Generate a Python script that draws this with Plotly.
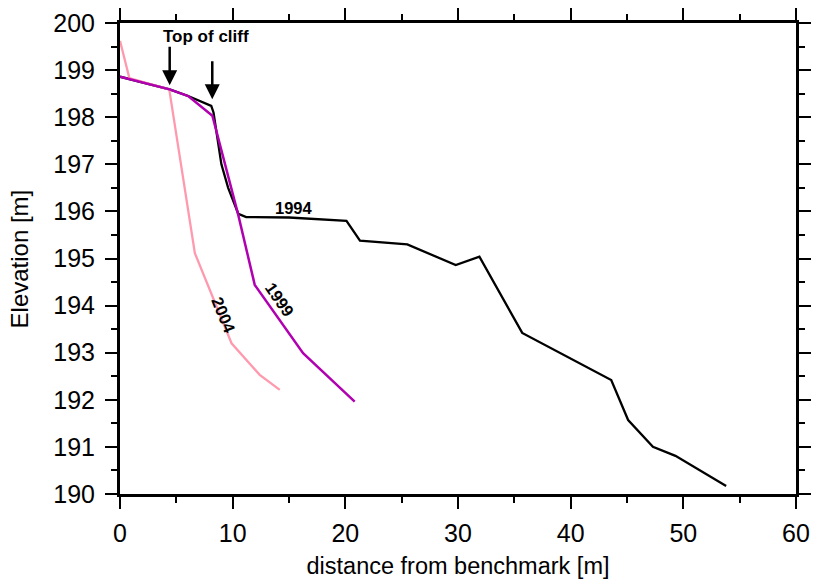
import plotly.graph_objects as go

# 1994 profile
x_1994 = [0.0, 4.4, 6.05, 8.1, 8.3, 9.0, 9.6, 10.5, 11.2, 15.0, 20.1, 21.3, 25.5, 29.8, 31.9, 35.7, 43.6, 45.1, 47.3, 49.3, 53.8]
y_1994 = [198.86, 198.59, 198.45, 198.24, 198.1, 197.0, 196.5, 195.95, 195.88, 195.87, 195.8, 195.38, 195.3, 194.86, 195.04, 193.42, 192.42, 191.57, 191.0, 190.81, 190.17]

# 1999 profile
x_1999 = [0.0, 4.4, 6.05, 8.2, 10.5, 11.96, 16.25, 20.83]
y_1999 = [198.86, 198.59, 198.45, 198.03, 195.92, 194.44, 192.99, 191.96]

# 2004 profile
x_2004 = [0.0, 0.83, 4.37, 6.65, 9.9, 12.4, 14.18]
y_2004 = [199.62, 198.83, 198.59, 195.11, 193.2, 192.53, 192.21]

# curve labels: text, x, y, angle
labels = [("1994", 15.4, 196.07, 0), ("1999", 14.2, 194.12, 55), ("2004", 9.2, 193.8, 68)]

# cliff-top arrows: x, y_start, y_tip
arrows = [(4.41, 199.53, 198.68), (8.19, 199.22, 198.38)]
cliff_text = ("Top of cliff", 7.65, 199.72)

x_title = "distance from benchmark [m]"
y_title = "Elevation [m]"

FONT = "Liberation Sans, Arial, sans-serif"

fig = go.Figure()
fig.add_trace(go.Scatter(x=x_1994, y=y_1994, mode="lines",
                         line=dict(color="black", width=2.3), showlegend=False))
fig.add_trace(go.Scatter(x=x_2004, y=y_2004, mode="lines",
                         line=dict(color="#ff9aae", width=2.3), showlegend=False))
fig.add_trace(go.Scatter(x=x_1999, y=y_1999, mode="lines",
                         line=dict(color="#b000b0", width=2.5), showlegend=False))

bold = dict(family=FONT, size=16.5, color="black")
annotations = []
for t, xx, yy, ang in labels:
    annotations.append(dict(x=xx, y=yy, xref="x", yref="y", text="<b>%s</b>" % t,
                            showarrow=False, textangle=ang, font=bold))
for xx, y0, y1 in arrows:
    annotations.append(dict(x=xx, y=y1, ax=xx, ay=y0, xref="x", yref="y",
                            axref="x", ayref="y", text="", showarrow=True,
                            arrowhead=2, arrowsize=1.2, arrowwidth=2.5,
                            arrowcolor="black"))
annotations.append(dict(x=cliff_text[1], y=cliff_text[2], xref="x", yref="y",
                        text="<b>%s</b>" % cliff_text[0], showarrow=False,
                        font=dict(family=FONT, size=17, color="black")))
# y-axis title placed as a rotated annotation (to sit further left)
annotations.append(dict(x=-0.148, y=0.5, xref="paper", yref="paper", text=y_title,
                        showarrow=False, textangle=-90, xanchor="center", yanchor="middle",
                        font=dict(family=FONT, size=24, color="black")))

axis_font = dict(family=FONT, size=25, color="black")
fig.update_layout(
    width=813, height=581,
    margin=dict(l=120, r=17, t=23, b=87),
    paper_bgcolor="white", plot_bgcolor="white",
    annotations=annotations,
    xaxis=dict(range=[0, 60], dtick=10, tick0=0, ticks="outside", ticklen=12, tickwidth=1.5,
               tickcolor="black", showline=True, linecolor="black", linewidth=3,
               mirror="allticks", showgrid=False, zeroline=False, automargin=False,
               tickfont=axis_font, ticklabelstandoff=3,
               minor=dict(dtick=5, ticks="outside", ticklen=6, tickwidth=1.5, tickcolor="black", showgrid=False),
               title=dict(text=x_title, standoff=12,
                          font=dict(family=FONT, size=23.5, color="black"))),
    yaxis=dict(range=[190, 200], dtick=1, tick0=190, ticks="outside", ticklen=12, tickwidth=1.5,
               tickcolor="black", showline=True, linecolor="black", linewidth=3,
               mirror="allticks", showgrid=False, zeroline=False, automargin=False,
               tickfont=axis_font, ticklabelstandoff=5,
               minor=dict(dtick=0.5, ticks="outside", ticklen=6, tickwidth=1.5, tickcolor="black", showgrid=False)),
)

fig.write_html("out.html", config={"displayModeBar": False},
               post_script="document.body.style.margin='0';document.body.style.overflow='hidden';")
